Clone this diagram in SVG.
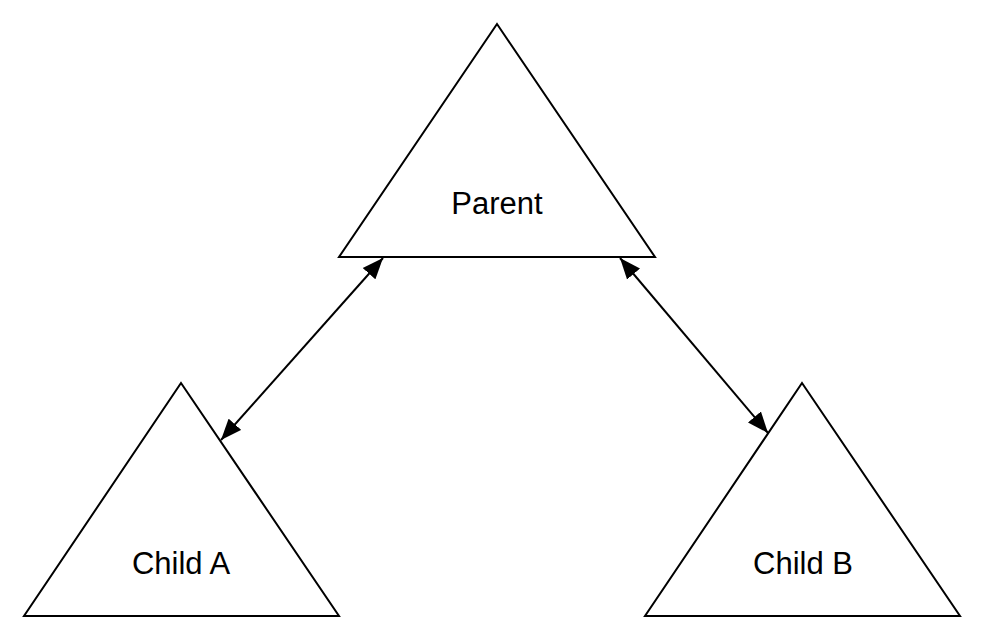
<svg xmlns="http://www.w3.org/2000/svg" width="984" height="641" viewBox="0 0 984 641">
<style>
.tri{fill:#fff;stroke:#000;stroke-width:2}
.lbl{font-family:"Liberation Sans",Arial,sans-serif;font-size:31px;fill:#000;text-anchor:middle}
.conn{stroke:#000;stroke-width:2;fill:none}
</style>
<defs>
<marker id="ah" markerUnits="userSpaceOnUse" markerWidth="22" markerHeight="18" refX="21" refY="8.5" orient="auto-start-reverse" viewBox="0 0 22 17">
<path d="M0,0 L21,8.5 L0,17 Z" fill="#000"/>
</marker>
</defs>
<rect width="984" height="641" fill="#fff"/>
<g id="parent">
<polygon class="tri" points="497,24 655,257 339,257"/>
<text class="lbl" x="497" y="214">Parent</text>
</g>
<g id="childA">
<polygon class="tri" points="181,383 339,616 24,616"/>
<text class="lbl" x="181" y="574">Child A</text>
</g>
<g id="childB">
<polygon class="tri" points="802,383 960,616 645,616"/>
<text class="lbl" x="803" y="574">Child B</text>
</g>
<g id="connectors">
<line class="conn" x1="383" y1="258" x2="221" y2="440" marker-start="url(#ah)" marker-end="url(#ah)"/>
<line class="conn" x1="620" y1="258" x2="768" y2="433" marker-start="url(#ah)" marker-end="url(#ah)"/>
</g>
</svg>
